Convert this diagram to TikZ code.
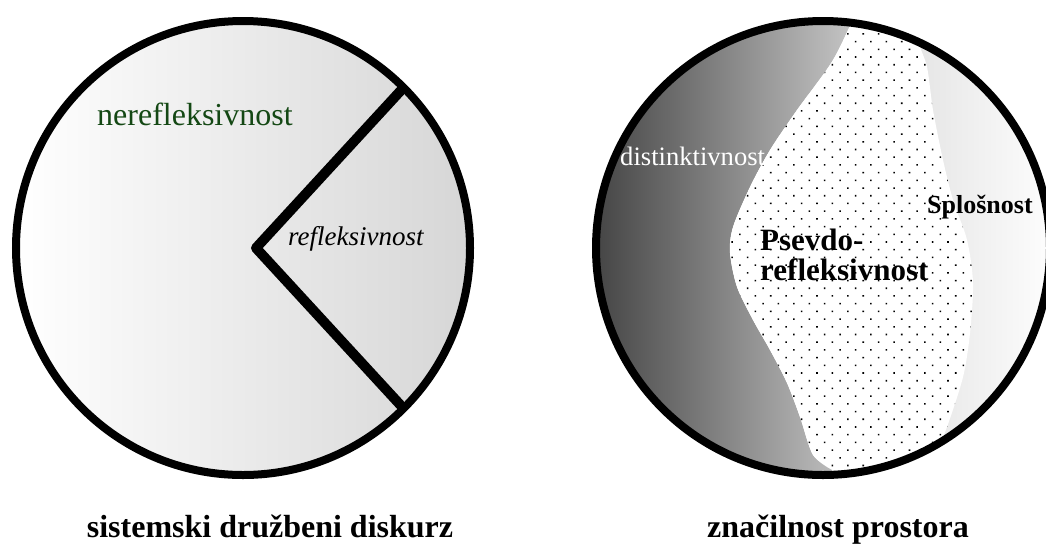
\documentclass[tikz,border=0pt]{standalone}
\usepackage{fontspec}
\setmainfont{Liberation Serif}
\usetikzlibrary{patterns.meta}
\definecolor{neregreen}{RGB}{20,72,20}
\tikzset{
  ring/.style={draw=black, line width=8},
  wedgeline/.style={line width=10, line join=round},
  lbl/.style={inner sep=0, anchor=base west},
  caption/.style={inner sep=0, anchor=base, font=\fontsize{32}{38}\selectfont\bfseries},
}
\begin{document}
\begin{tikzpicture}[x=1pt,y=-1pt]
\useasboundingbox (0,0) rectangle (1046,558);
% left circle
\shade[left color=white, right color=black!16] (243,248) circle (227);
\draw[ring] (243,248) circle (227);
\draw[wedgeline] (405,86) -- (256,248) -- (405,410);
\node[lbl, text=neregreen, font=\fontsize{32}{38}\selectfont] (nerefl) at (97,125) {nerefleksivnost};
\node[lbl, font=\fontsize{27}{32}\selectfont\itshape] (refl) at (288,245) {refleksivnost};
% right circle
\begin{scope}
\clip (823,248) circle (227);
\shade[left color=black!14, right color=white] (860,0) rectangle (1060,500);
\shade[left color=black!75, right color=black!22] (585,0) -- (857,0)
  -- plot[smooth] coordinates {(857,10) (833,60) (797,110) (770,150) (750,187) (733,227) (730,253)
     (737,287) (753,320) (770,350) (787,383) (800,417) (813,455) (832,470)}
  -- (832,500) -- (585,500) -- cycle;
\path[fill=white, postaction={pattern={Dots[radius=1.1pt, distance=10.9pt, angle=45]}}] (857,0)
  -- plot[smooth] coordinates {(857,10) (833,60) (797,110) (770,150) (750,187) (733,227) (730,253)
     (737,287) (753,320) (770,350) (787,383) (800,417) (813,455) (832,468)}
  -- (900,468)
  -- plot[smooth] coordinates {(935,455) (947,427) (963,377) (970,333) (973,283) (967,240)
     (953,200) (943,160) (933,110) (927,67) (917,37) (915,0)}
  -- cycle;
\end{scope}
\draw[ring] (823,248) circle (227);
\node[lbl, text=white, font=\fontsize{26.6}{32}\selectfont] (dist) at (620,165) {distinktivnost};
\node[lbl, font=\fontsize{26}{31}\selectfont\bfseries] (splos) at (927,213) {Splošnost};
\node[lbl, font=\fontsize{31}{36}\selectfont\bfseries] (psevdo) at (760,250) {Psevdo-};
\node[lbl, font=\fontsize{31}{36}\selectfont\bfseries] (prefl) at (760,280) {refleksivnost};
% captions
\node[caption] (sdd) at (270,537) {sistemski družbeni diskurz};
\node[caption] (zp) at (838,537) {značilnost prostora};
\end{tikzpicture}
\end{document}
